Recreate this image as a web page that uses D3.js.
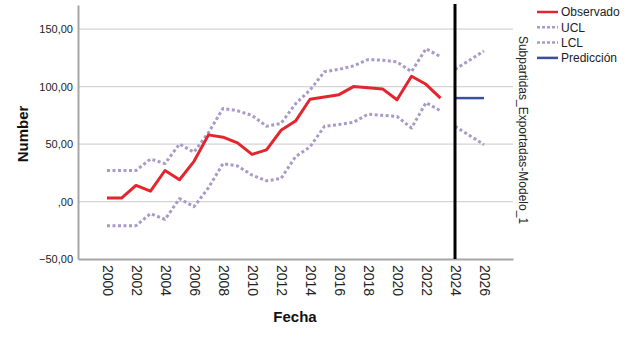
<!DOCTYPE html>
<html>
<head>
<meta charset="utf-8">
<script src="https://cdn.jsdelivr.net/npm/d3@7"></script>
<style>
  body { margin: 0; background: #fff; }
  svg { font-family: Arial, "Liberation Sans", sans-serif; }
</style>
</head>
<body>
<div id="chart"></div>
<script>
// observed years and values
const years = d3.range(2000, 2024);
const observed = [3, 3, 14, 9, 27, 19, 35, 58, 56, 51, 41, 45, 62, 70, 89, 91, 93, 100, 99, 98, 88.5, 109, 102, 90];
const ucl = [27, 27, 27, 37, 33, 50, 43, 60, 81, 79, 75, 65.5, 68, 85, 97, 113, 115, 118, 123.5, 123, 121.5, 113, 133, 126];
const lcl = [-21, -21, -21, -10.5, -15.5, 2.5, -4.5, 12, 33, 31, 23, 18, 20, 39, 47.5, 65.5, 67, 69, 76, 75, 74, 64, 86, 79];

// forecast period
const fcYears = [2024, 2025, 2026];
const fcPred = [90, 90, 90];
const fcUcl = [115, 123, 131];
const fcLcl = [65.5, 57.5, 49.5];

const xTicks = d3.range(2000, 2027, 2);
const yTicks = [-50, 0, 50, 100, 150];
const modelName = 'Subpartidas_Exportadas-Modelo_1';

const width = 627, height = 338;
const margin = {top: 5, right: 114, bottom: 79, left: 78};

const svg = d3.select('#chart').append('svg')
  .attr('width', width)
  .attr('height', height);

const x = d3.scaleLinear().domain([1998, 2028]).range([margin.left, width - margin.right]);
const y = d3.scaleLinear().domain([-50, 171]).range([height - margin.bottom, margin.top]);

const fmt = v => d3.format('.2f')(v).replace('.', ',').replace(/^0,/, ',').replace(/^-0,/, '-,');

// gridlines
svg.append('g')
  .selectAll('line')
  .data(yTicks.filter(d => d > -50))
  .enter().append('line')
  .attr('x1', margin.left)
  .attr('x2', width - margin.right)
  .attr('y1', d => y(d))
  .attr('y2', d => y(d))
  .attr('stroke', '#d4d4d4')
  .attr('stroke-width', 1.2);

// y axis
const yAxis = svg.append('g')
  .attr('transform', `translate(${margin.left},0)`)
  .call(d3.axisLeft(y).tickValues(yTicks).tickSize(0).tickPadding(5).tickFormat(fmt));
yAxis.select('.domain').attr('stroke', '#a6a6a6').attr('stroke-width', 2);
yAxis.selectAll('text').attr('font-size', 11).attr('fill', '#222').attr('font-family', 'Arial, sans-serif');

// x axis
const xAxis = svg.append('g')
  .attr('transform', `translate(0,${height - margin.bottom})`)
  .call(d3.axisBottom(x).tickValues(xTicks).tickSize(0).tickFormat(d3.format('d')));
xAxis.select('.domain').attr('stroke', '#a6a6a6').attr('stroke-width', 2);
xAxis.selectAll('text')
  .attr('font-size', 14)
  .attr('fill', '#222')
  .attr('font-family', 'Arial, sans-serif')
  .attr('text-anchor', 'start')
  .attr('dy', '0.35em')
  .attr('y', 0)
  .attr('transform', 'translate(0,6) rotate(90)');

const line = d3.line().x(d => x(d[0])).y(d => y(d[1]));

const series = [
  {data: d3.zip(years, ucl), color: '#a99bc9', dash: '3,2.5', w: 3},
  {data: d3.zip(years, lcl), color: '#a99bc9', dash: '3,2.5', w: 3},
  {data: d3.zip(fcYears, fcUcl), color: '#a99bc9', dash: '3,2.5', w: 3},
  {data: d3.zip(fcYears, fcLcl), color: '#a99bc9', dash: '3,2.5', w: 3},
  {data: d3.zip(years, observed), color: '#e3262d', dash: null, w: 3},
  {data: d3.zip(fcYears, fcPred), color: '#3a4fa0', dash: null, w: 2.5}
];

svg.append('g')
  .selectAll('path')
  .data(series)
  .enter().append('path')
  .attr('d', d => line(d.data))
  .attr('fill', 'none')
  .attr('stroke', d => d.color)
  .attr('stroke-width', d => d.w)
  .attr('stroke-dasharray', d => d.dash)
  .attr('stroke-linejoin', 'round');

// forecast origin line
svg.append('line')
  .attr('x1', x(2024))
  .attr('x2', x(2024))
  .attr('y1', margin.top - 1)
  .attr('y2', height - margin.bottom)
  .attr('stroke', '#000')
  .attr('stroke-width', 3);

// axis titles
svg.append('text')
  .attr('transform', `translate(28,${(margin.top + height - margin.bottom) / 2 + 2}) rotate(-90)`)
  .attr('text-anchor', 'middle')
  .attr('font-size', 15)
  .attr('font-weight', 'bold')
  .attr('fill', '#111')
  .text('Number');

svg.append('text')
  .attr('x', 295)
  .attr('y', 322)
  .attr('text-anchor', 'middle')
  .attr('font-size', 15)
  .attr('font-weight', 'bold')
  .attr('fill', '#111')
  .text('Fecha');

// model label on the right
svg.append('text')
  .attr('transform', `translate(519,${(margin.top + height - margin.bottom) / 2 - 2}) rotate(90)`)
  .attr('text-anchor', 'middle')
  .attr('font-size', 12)
  .attr('fill', '#222')
  .text(modelName);

// legend
const legendItems = [
  {label: 'Observado', color: '#e3262d', dash: null},
  {label: 'UCL', color: '#a99bc9', dash: '3,2'},
  {label: 'LCL', color: '#a99bc9', dash: '3,2'},
  {label: 'Predicción', color: '#3a4fa0', dash: null}
];
const legend = svg.append('g').attr('transform', 'translate(537,12)');
const li = legend.selectAll('g')
  .data(legendItems)
  .enter().append('g')
  .attr('transform', (d, i) => `translate(0,${i * 15.3})`);
li.append('line')
  .attr('x1', 0).attr('x2', 21)
  .attr('stroke', d => d.color)
  .attr('stroke-width', 2.5)
  .attr('stroke-dasharray', d => d.dash);
li.append('text')
  .attr('x', 24)
  .attr('dy', '0.35em')
  .attr('font-size', 12)
  .attr('fill', '#222')
  .text(d => d.label);
</script>
</body>
</html>
